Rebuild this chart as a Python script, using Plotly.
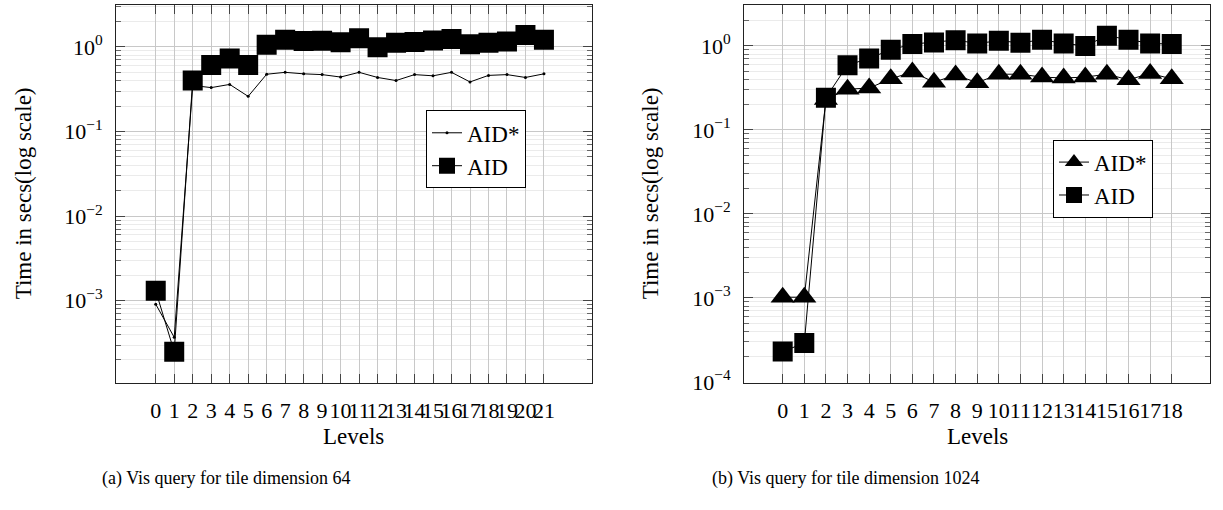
import plotly.graph_objects as go

# ---------------- data ----------------
levels_64 = list(range(22))
aid_star_64 = [9.1e-4, 3.7e-4, 0.35, 0.33, 0.36, 0.26, 0.475, 0.50, 0.48, 0.47, 0.44,
               0.50, 0.435, 0.40, 0.47, 0.455, 0.50, 0.385, 0.46, 0.47, 0.435, 0.48]
aid_64 = [1.31e-3, 2.5e-4, 0.40, 0.61, 0.73, 0.61, 1.06, 1.21, 1.17, 1.18, 1.13,
          1.26, 0.99, 1.12, 1.14, 1.19, 1.24, 1.07, 1.12, 1.16, 1.38, 1.21]

levels_1024 = list(range(19))
aid_star_1024 = [1.02e-3, 1.02e-3, 0.23, 0.305, 0.315, 0.405, 0.49, 0.37, 0.45, 0.365,
                 0.46, 0.46, 0.425, 0.415, 0.425, 0.46, 0.395, 0.47, 0.405]
aid_1024 = [2.3e-4, 2.9e-4, 0.242, 0.59, 0.71, 0.90, 1.05, 1.10, 1.17, 1.07,
            1.15, 1.09, 1.18, 1.07, 1.00, 1.32, 1.18, 1.07, 1.05]

major_vals = [1e-4, 1e-3, 1e-2, 1e-1, 1e0]
major_text = ["10<sup>\u22124</sup>", "10<sup>\u22123</sup>", "10<sup>\u22122</sup>",
              "10<sup>\u22121</sup>", "10<sup>0</sup>"]
minor_vals = [m * 10.0 ** e for e in range(-5, 1) for m in range(2, 10)]

FONT = "Liberation Serif"
W, H = 1223, 510

def px_x(p):
    return p / W

def px_y(p):
    return 1 - p / H

fig = go.Figure()

fig.add_trace(go.Scatter(x=levels_64, y=aid_star_64, name="AID*", mode="lines+markers",
                         line=dict(color="black", width=1),
                         marker=dict(symbol="circle", size=3, color="black"),
                         xaxis="x", yaxis="y", legend="legend"))
fig.add_trace(go.Scatter(x=levels_64, y=aid_64, name="AID", mode="lines+markers",
                         line=dict(color="black", width=1),
                         marker=dict(symbol="square", size=20, color="black"),
                         xaxis="x", yaxis="y", legend="legend"))
fig.add_trace(go.Scatter(x=levels_1024, y=aid_star_1024, name="AID*", mode="lines+markers",
                         line=dict(color="black", width=1),
                         marker=dict(symbol="triangle-up", size=21, color="black"),
                         xaxis="x2", yaxis="y2", legend="legend2"))
fig.add_trace(go.Scatter(x=levels_1024, y=aid_1024, name="AID", mode="lines+markers",
                         line=dict(color="black", width=1),
                         marker=dict(symbol="square", size=20, color="black"),
                         xaxis="x2", yaxis="y2", legend="legend2"))

ydom = [px_y(392), px_y(5)]
tickfont = dict(family=FONT, size=22, color="black")

def xaxis(dom, rng, n):
    return dict(domain=dom, range=rng, tickmode="array", tickvals=list(range(n)),
                ticktext=[str(i) for i in range(n)], tickangle=0,
                ticks="inside", ticklen=9, tickcolor="#444", tickwidth=1,
                showline=True, linecolor="#222", linewidth=1, mirror="allticks",
                showgrid=True, gridcolor="#c8c8c8", gridwidth=1, zeroline=False,
                tickfont=tickfont, ticklabelstandoff=8)

def yaxis(anchor, rng):
    return dict(domain=ydom, type="log", range=rng, anchor=anchor,
                tickmode="array", tickvals=major_vals, ticktext=major_text,
                ticks="inside", ticklen=9, tickcolor="#444", tickwidth=1,
                showline=True, linecolor="#222", linewidth=1, mirror="allticks",
                showgrid=True, gridcolor="#c8c8c8", gridwidth=1, zeroline=False,
                tickfont=tickfont, ticklabelstandoff=8,
                minor=dict(tickmode="array", tickvals=minor_vals, ticks="inside",
                           ticklen=5, tickcolor="#666", showgrid=True,
                           gridcolor="#ebebeb", gridwidth=1))

legfont = dict(family=FONT, size=23, color="black")

fig.update_layout(
    width=W, height=H,
    margin=dict(l=0, r=0, t=0, b=0),
    paper_bgcolor="white", plot_bgcolor="white",
    font=dict(family=FONT, size=22, color="black"),
    xaxis=xaxis([px_x(116), px_x(592)], [-2.15, 23.6], 22) | dict(anchor="y"),
    yaxis=yaxis("x", [-3.969, 0.496]),
    xaxis2=xaxis([px_x(744), px_x(1210)], [-1.79, 19.77], 19) | dict(anchor="y2"),
    yaxis2=yaxis("x2", [-4.01, 0.488]),
    legend=dict(x=px_x(426), y=px_y(113), xanchor="left", yanchor="top",
                bgcolor="white", bordercolor="black", borderwidth=1,
                font=legfont, tracegroupgap=0, entrywidth=75),
    legend2=dict(x=px_x(1053), y=px_y(143), xanchor="left", yanchor="top",
                 bgcolor="white", bordercolor="black", borderwidth=1,
                 font=legfont, tracegroupgap=0, entrywidth=75),
    showlegend=True,
)

ann = [
    dict(text="Levels", x=px_x(354), y=px_y(447)),
    dict(text="Levels", x=px_x(977), y=px_y(447)),
    dict(text="Time in secs(log scale)", x=px_x(23), y=px_y(198), textangle=-90),
    dict(text="Time in secs(log scale)", x=px_x(650), y=px_y(198), textangle=-90),
    dict(text="(a) Vis query for tile dimension 64", x=px_x(226), y=px_y(490), size=18),
    dict(text="(b) Vis query for tile dimension 1024", x=px_x(846), y=px_y(490), size=18),
]
for a in ann:
    size = a.pop("size", 23)
    fig.add_annotation(xref="paper", yref="paper", showarrow=False,
                       xanchor="center", yanchor="middle",
                       font=dict(family=FONT, size=size, color="black"), **a)

fig.write_html("out.html")
